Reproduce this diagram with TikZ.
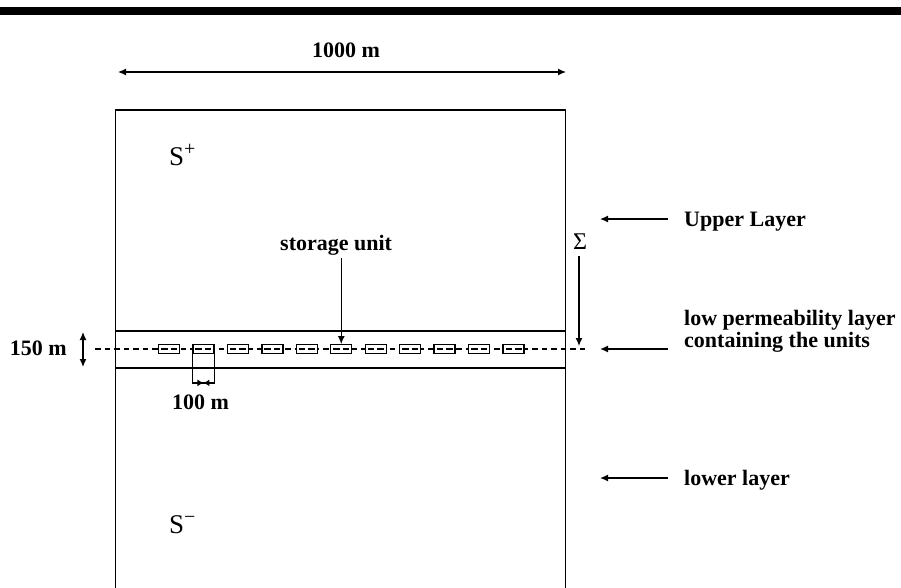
\documentclass[tikz,border=0pt]{standalone}
\usepackage{fontspec}
\setmainfont{Liberation Serif}
\usetikzlibrary{arrows.meta}
\begin{document}
\begin{tikzpicture}[x=1pt,y=-1pt,
  lab/.style={font=\fontsize{22}{20}\selectfont\bfseries, inner sep=0pt, align=left},
  sym/.style={font=\fontsize{27}{27}\selectfont, inner sep=0pt},
  unitbox/.style={draw, fill=white, minimum width=21pt, minimum height=8.5pt, inner sep=0pt, line width=1.3pt},
  tip/.tip={Latex[length=8pt,width=7pt]},
  arr/.style={-tip, line width=1.3pt},
  dimarr/.style={tip-tip, line width=1.3pt},
  frame/.style={line width=1.6pt}]
\useasboundingbox (0,0) rectangle (901,587);
\fill (0,7) rectangle (901,15);
% main block
\coordinate (bl) at (115.5,588);
\coordinate (tl) at (115.5,110);
\coordinate (tr) at (565.5,110);
\coordinate (br) at (565.5,588);
\draw[frame] (bl) -- (tl) -- (tr) -- (br);
% low permeability layer
\coordinate (lt1) at (115.5,331); \coordinate (lt2) at (565.5,331);
\coordinate (lb1) at (115.5,368); \coordinate (lb2) at (565.5,368);
\draw[frame] (lt1) -- (lt2);
\draw[frame] (lb1) -- (lb2);
% dashed axis
\coordinate (da) at (95,349); \coordinate (db) at (587,349);
\draw[dash pattern=on 5.5pt off 4pt, line width=1.4pt] (da) -- (db);
% storage units
\foreach \i in {0,...,10} {
  \node[unitbox] (u\i) at (169+34.45*\i,349) {};
  \draw[line width=1.2pt] ([xshift=-8pt]u\i.center) -- ([xshift=-1.5pt]u\i.center);
  \draw[line width=1.2pt] ([xshift=1.5pt]u\i.center) -- ([xshift=8pt]u\i.center);
}
% 1000 m
\node[lab, anchor=base west] (w) at (312,57) {1000 m};
\coordinate (wl) at (118,72); \coordinate (wr) at (566,72);
\draw[dimarr] (wl) -- (wr);
% S labels
\node[sym, anchor=base west] (splus) at (169,165) {S\raisebox{10pt}{\fontsize{20}{20}\selectfont +}};
\node[sym, anchor=base west] (sminus) at (169,533) {S\raisebox{10pt}{\fontsize{20}{20}\selectfont −}};
% storage unit
\node[lab, anchor=base west] (su) at (280,250) {storage unit};
\coordinate (sua) at (u5.north |- 0,258);
\draw[arr] (sua) -- (u5.north);
% Sigma
\node[sym, font=\fontsize{24}{24}\selectfont] (sig) at (580,242) {Σ};
\coordinate (sga) at (579,256); \coordinate (sgb) at (579,346);
\draw[arr] (sga) -- (sgb);
% 150 m
\node[lab, anchor=base east] (t150) at (67,355) {150 m};
\coordinate (ha) at (83,332); \coordinate (hb) at (83,367);
\draw[dimarr] (ha) -- (hb);
% 100 m
\coordinate (dl) at ([yshift=-29pt]u1.south west);
\coordinate (dr) at ([yshift=-29pt]u1.south east);
\coordinate (dm) at ([yshift=-29pt]u1.south);
\draw[line width=1.3pt] (u1.south west) -- (dl) -- (dr) -- (u1.south east);
\draw[-{Latex[length=6pt,width=7pt]}, line width=1.3pt] (dl) -- (dm);
\draw[-{Latex[length=6pt,width=7pt]}, line width=1.3pt] (dr) -- (dm);
\node[lab, anchor=base west] (t100) at (172,409) {100 m};
% right labels
\node[lab, anchor=base west] (up) at (684,226) {Upper Layer};
\node[lab, anchor=base west] (lp) at (684,347) {low permeability layer\\containing the units};
\node[lab, anchor=base west] (lo) at (684,485) {lower layer};
\coordinate (a1) at (668,219); \coordinate (b1) at (600,219);
\coordinate (a2) at (668,349); \coordinate (b2) at (600,349);
\coordinate (a3) at (668,478); \coordinate (b3) at (600,478);
\draw[arr] (a1) -- (b1);
\draw[arr] (a2) -- (b2);
\draw[arr] (a3) -- (b3);
\end{tikzpicture}
\end{document}
